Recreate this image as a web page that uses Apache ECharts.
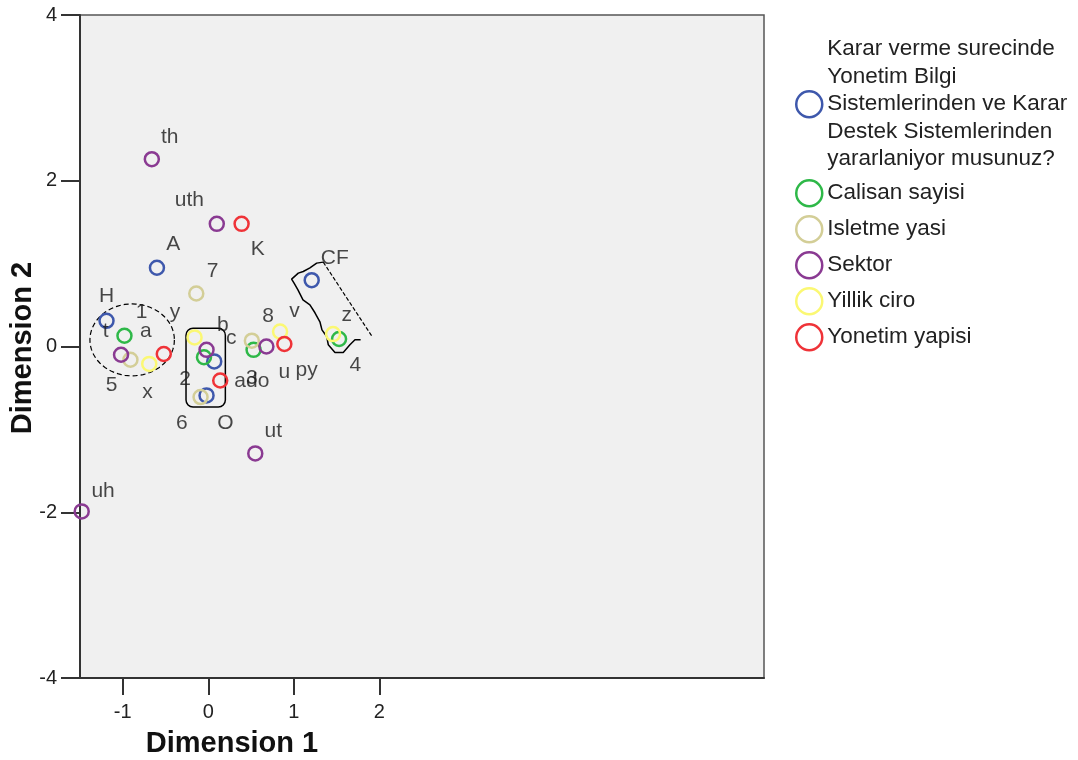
<!DOCTYPE html>
<html><head><meta charset="utf-8">
<script src="https://cdn.jsdelivr.net/npm/echarts@6/dist/echarts.min.js"></script>
<style>html,body{margin:0;padding:0;background:#fff}#c{width:1078px;height:760px}</style>
</head><body><div id="c"></div>
<script>
const FONT = '"Liberation Sans", Arial, sans-serif';
const seriesNames = [
  'Karar verme surecinde\nYonetim Bilgi\nSistemlerinden ve Karar\nDestek Sistemlerinden\nyararlaniyor musunuz?',
  'Calisan sayisi', 'Isletme yasi', 'Sektor', 'Yillik ciro', 'Yonetim yapisi'
];
const colors = ['#3E58AC', '#2EB848', '#D3CE97', '#8A3A92', '#FBF873', '#EF3338'];
// [Dimension 1, Dimension 2]
const karar   = [[-0.60, 0.95], [1.21, 0.80], [-1.19, 0.31], [0.07, -0.18], [-0.02, -0.59]];
const calisan = [[-0.98, 0.13], [-0.05, -0.13], [0.53, -0.04], [1.53, 0.09]];
const isletme = [[-0.14, 0.64], [-0.91, -0.16], [-0.09, -0.61], [0.51, 0.07]];
const sektor  = [[-0.66, 2.26], [0.10, 1.48], [-1.02, -0.10], [-0.02, -0.04], [0.68, 0.00], [0.55, -1.29], [-1.48, -1.99]];
const ciro    = [[-0.69, -0.21], [-0.16, 0.11], [0.84, 0.18], [1.46, 0.15]];
const yapi    = [[0.39, 1.48], [-0.52, -0.09], [0.14, -0.41], [0.89, 0.03]];
const seriesData = [karar, calisan, isletme, sektor, ciro, yapi];
// point labels: [text, dim1, dim2]
const pointLabels = [
  ['th', -0.45, 2.52], ['uth', -0.22, 1.76], ['K', 0.58, 1.17], ['A', -0.41, 1.23],
  ['7', 0.05, 0.91], ['CF', 1.48, 1.07], ['H', -1.19, 0.61], ['1', -0.78, 0.41],
  ['y', -0.39, 0.41], ['t', -1.20, 0.18], ['a', -0.73, 0.19], ['b', 0.17, 0.26],
  ['c', 0.27, 0.10], ['8', 0.70, 0.37], ['v', 1.01, 0.43], ['z', 1.62, 0.38],
  ['4', 1.72, -0.22], ['5', -1.13, -0.47], ['x', -0.71, -0.55], ['2', -0.27, -0.40],
  ['ado', 0.51, -0.42], ['3', 0.51, -0.38], ['u', 0.89, -0.31], ['py', 1.15, -0.29],
  ['6', -0.31, -0.92], ['O', 0.20, -0.92], ['ut', 0.76, -1.02], ['uh', -1.23, -1.75]
];
const xTicks = [-1, 0, 1, 2];
const yTicks = [-4, -2, 0, 2, 4];
// hand-drawn annotations (in data units)
const ellipseNote = [[-0.89, 0.08, 0.494, 0.434]];
const boxNote = [[-0.26, 0.22, 0.20, -0.73]];
const jaggedNote = [[1.345, 1.018], [1.268, 1.006], [1.189, 0.949], [1.111, 0.905], [1.053, 0.885],
  [0.975, 0.813], [1.002, 0.768], [1.049, 0.684], [1.108, 0.563], [1.189, 0.503], [1.248, 0.407],
  [1.306, 0.298], [1.330, 0.201], [1.385, 0.121], [1.404, 0.021], [1.482, -0.072], [1.579, -0.072],
  [1.657, 0.021], [1.716, 0.081], [1.782, 0.081]];
const diagonalNote = [[1.345, 1.018], [1.911, 0.129]];

const chart = echarts.init(document.getElementById('c'));
const series = [];
seriesData.forEach((d, i) => {
  series.push({
    name: seriesNames[i], type: 'scatter', data: d, symbol: 'circle', symbolSize: 14,
    itemStyle: { color: 'transparent', borderColor: colors[i], borderWidth: 2.5, opacity: 1 },
    emphasis: { disabled: true }, z: 3
  });
});
series.push({
  type: 'scatter', silent: true, symbolSize: 1, z: 4,
  itemStyle: { color: 'transparent' },
  data: pointLabels.map(p => ({ name: p[0], value: [p[1], p[2]] })),
  label: { show: true, position: 'inside', formatter: p => p.name, color: '#1a1a1a', fontSize: 21, fontFamily: FONT }
});
series.push({
  type: 'custom', silent: true, z: 2, data: ellipseNote, clip: false,
  renderItem: (params, api) => {
    const c = api.coord([api.value(0), api.value(1)]);
    const s = api.size([api.value(2), api.value(3)]);
    const pts = [];
    for (let k = 0; k <= 72; k++) {
      const a = k / 72 * Math.PI * 2;
      pts.push([c[0] + s[0] * Math.cos(a), c[1] + s[1] * Math.sin(a)]);
    }
    return { type: 'polyline', shape: { points: pts }, style: { fill: null, stroke: '#000', lineWidth: 1.2, lineDash: [5, 3] } };
  }
});
series.push({
  type: 'custom', silent: true, z: 2, data: boxNote, clip: false,
  renderItem: (params, api) => {
    const p1 = api.coord([api.value(0), api.value(1)]);
    const p2 = api.coord([api.value(2), api.value(3)]);
    return { type: 'rect', shape: { x: p1[0], y: p1[1], width: p2[0] - p1[0], height: p2[1] - p1[1], r: 7 },
      style: { fill: null, stroke: '#000', lineWidth: 1.5 } };
  }
});
series.push({ type: 'line', silent: true, z: 2, data: jaggedNote, symbol: 'none', lineStyle: { color: '#000', width: 1.5 } });
series.push({ type: 'line', silent: true, z: 2, data: diagonalNote, symbol: 'none', lineStyle: { color: '#000', width: 1.2, type: [4, 2] } });

chart.setOption({
  animation: false,
  backgroundColor: '#fff',
  grid: { left: 80, top: 15, right: 314, bottom: 82, show: true, backgroundColor: '#f0f0f0', borderColor: '#555', borderWidth: 1.5 },
  xAxis: {
    type: 'value', min: -1.5, max: 6.5,
    splitLine: { show: false },
    axisLine: { onZero: false, lineStyle: { color: '#333', width: 2 } },
    axisTick: { customValues: xTicks, length: 17, lineStyle: { color: '#333', width: 2 } },
    axisLabel: { customValues: xTicks, margin: 24, fontSize: 20, color: '#222', fontFamily: FONT }
  },
  yAxis: {
    type: 'value', min: -4, max: 4, interval: 2,
    splitLine: { show: false },
    axisLine: { onZero: false, lineStyle: { color: '#333', width: 2 } },
    axisTick: { customValues: yTicks, length: 19, lineStyle: { color: '#333', width: 2 } },
    axisLabel: { customValues: yTicks, margin: 23, fontSize: 20, color: '#222', fontFamily: FONT }
  },
  legend: {
    orient: 'vertical', left: 790, top: 30.5, itemWidth: 26, itemHeight: 26, itemGap: 4.5, icon: 'circle',
    selectedMode: false,
    formatter: name => name.indexOf('\n') >= 0 ? name : '{s|' + name + '}',
    textStyle: {
      fontFamily: FONT, fontSize: 22.5, lineHeight: 27.5, color: '#222',
      rich: { s: { fontFamily: FONT, fontSize: 22.5, lineHeight: 31.5, color: '#222' } }
    },
    data: seriesNames.map((n, i) => ({ name: n, itemStyle: { color: 'transparent', borderColor: colors[i], borderWidth: 2.5 } }))
  },
  graphic: [
    { type: 'text', x: 232, y: 744, style: { text: 'Dimension 1', font: 'bold 29px "Liberation Sans", Arial, sans-serif', align: 'center', verticalAlign: 'middle', fill: '#111' } },
    { type: 'text', x: 23, y: 348, rotation: Math.PI / 2, style: { text: 'Dimension 2', font: 'bold 29px "Liberation Sans", Arial, sans-serif', align: 'center', verticalAlign: 'middle', fill: '#111' } }
  ],
  series: series
});
</script></body></html>
